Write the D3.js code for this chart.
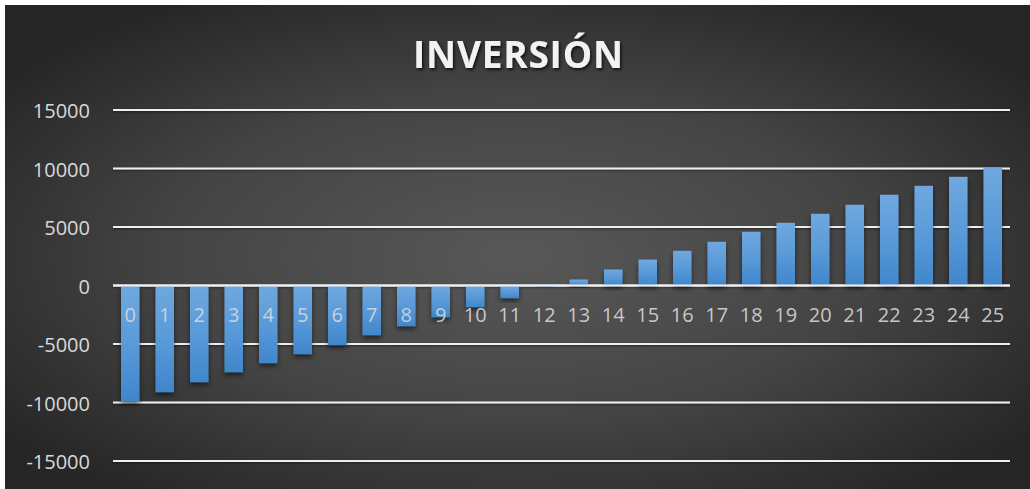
<!DOCTYPE html>
<html>
<head>
<meta charset="utf-8">
<script src="https://cdn.jsdelivr.net/npm/d3@7"></script>
<style>
  html, body { margin: 0; padding: 0; background: #ffffff; }
  svg { display: block; }
</style>
</head>
<body>
<svg id="chart" width="1030" height="489"></svg>
<script>
// Periods of the investment
const categories = ["0","1","2","3","4","5","6","7","8","9","10","11","12",
                    "13","14","15","16","17","18","19","20","21","22","23","24","25"];
// Accumulated balance per period
const values = [-9900, -9120, -8265, -7410, -6640, -5870, -5100, -4250, -3480, -2710,
                -1850, -1085, -100, 513, 1370, 2220, 2966, 3735, 4590, 5360,
                6130, 6900, 7755, 8520, 9290, 10060];
// Value axis ticks
const yTicks = [-15000, -10000, -5000, 0, 5000, 10000, 15000];
const title = "INVERSIÓN";

const W = 1030, H = 489;
const svg = d3.select("#chart");
const defs = svg.append("defs");

// Dark radial background
const bg = defs.append("radialGradient").attr("id", "bg")
  .attr("cx", "50%").attr("cy", "52%").attr("r", "62%")
  .attr("gradientUnits", "objectBoundingBox");
bg.append("stop").attr("offset", "0%").attr("stop-color", "#585858");
bg.append("stop").attr("offset", "55%").attr("stop-color", "#444444");
bg.append("stop").attr("offset", "100%").attr("stop-color", "#262626");

// Bar fill
const barGrad = defs.append("linearGradient").attr("id", "barGrad")
  .attr("x1", 0).attr("y1", 0).attr("x2", 0).attr("y2", 1);
barGrad.append("stop").attr("offset", "0%").attr("stop-color", "#6fa8de");
barGrad.append("stop").attr("offset", "50%").attr("stop-color", "#5a9ad9");
barGrad.append("stop").attr("offset", "100%").attr("stop-color", "#3f86cb");

const shadow = defs.append("filter").attr("id", "shadow")
  .attr("x", "-30%").attr("y", "-30%").attr("width", "160%").attr("height", "160%");
shadow.append("feDropShadow").attr("dx", 0).attr("dy", 3).attr("stdDeviation", 2.5)
  .attr("flood-color", "#000").attr("flood-opacity", 0.55);

// Gridline shadow: user-space region, since a horizontal line has no height
const lineShadow = defs.append("filter").attr("id", "lineShadow")
  .attr("filterUnits", "userSpaceOnUse")
  .attr("x", 0).attr("y", 0).attr("width", W).attr("height", H);
lineShadow.append("feDropShadow").attr("dx", 0).attr("dy", 1).attr("stdDeviation", 1)
  .attr("flood-color", "#000").attr("flood-opacity", 0.5);

const titleShadow = defs.append("filter").attr("id", "titleShadow")
  .attr("x", "-10%").attr("y", "-30%").attr("width", "120%").attr("height", "160%");
titleShadow.append("feDropShadow").attr("dx", 1.5).attr("dy", 2).attr("stdDeviation", 1.5)
  .attr("flood-color", "#000").attr("flood-opacity", 0.7);

svg.append("rect").attr("x", 5).attr("y", 5).attr("width", W - 5).attr("height", H - 5)
  .attr("fill", "url(#bg)");

// Scales
const x = d3.scaleBand().domain(categories).range([113, 1010])
  .paddingInner(0.464).paddingOuter(0.232);
const y = d3.scaleLinear().domain([-15000, 15000]).range([461, 110]);

// Gridlines
svg.append("g").selectAll("line").data(yTicks).join("line")
  .attr("x1", 113).attr("x2", 1010)
  .attr("y1", d => y(d)).attr("y2", d => y(d))
  .attr("stroke", "#efefef").attr("stroke-width", 2.2)
  .attr("filter", "url(#lineShadow)");

// Value axis labels
const yAxis = svg.append("g").attr("transform", "translate(90,0)")
  .call(d3.axisLeft(y).tickValues(yTicks).tickSize(0).tickPadding(0).tickFormat(d => String(d)));
yAxis.select(".domain").remove();
yAxis.selectAll("text")
  .attr("fill", "#d9d9d9")
  .attr("font-family", "'Open Sans', sans-serif")
  .attr("font-size", "20px")
  .attr("dy", "0.38em");

// Bars
svg.append("g").selectAll("rect").data(values).join("rect")
  .attr("x", (d, i) => x(categories[i]))
  .attr("width", x.bandwidth())
  .attr("y", d => Math.min(y(d), y(0)))
  .attr("height", d => Math.abs(y(d) - y(0)))
  .attr("fill", "url(#barGrad)")
  .attr("filter", "url(#shadow)");

// Zero line drawn again on top of the bars
svg.append("line")
  .attr("x1", 113).attr("x2", 1010).attr("y1", y(0)).attr("y2", y(0))
  .attr("stroke", "#efefef").attr("stroke-width", 2.2);

// Category labels next to the axis
const xAxis = svg.append("g").attr("transform", `translate(0,${y(0)})`)
  .call(d3.axisBottom(x).tickSize(0).tickPadding(0));
xAxis.select(".domain").remove();
xAxis.selectAll("text")
  .attr("fill", "#d9d9d9")
  .attr("fill-opacity", 0.9)
  .attr("font-family", "'Open Sans', sans-serif")
  .attr("font-size", "20px")
  .attr("dy", "1.82em");

// Title
const t = svg.append("text")
  .attr("x", 518).attr("y", 67.5)
  .attr("text-anchor", "middle")
  .attr("fill", "#f2f2f2")
  .attr("font-family", "'Open Sans', sans-serif")
  .attr("font-weight", "bold")
  .attr("font-size", "37px")
  .attr("filter", "url(#titleShadow)")
  .text(title);
const tw = t.node().getComputedTextLength();
const extra = (210 - tw) / (title.length - 1);
if (extra > 0) t.attr("letter-spacing", extra + "px").attr("x", 518 + extra / 2);
</script>
</body>
</html>
